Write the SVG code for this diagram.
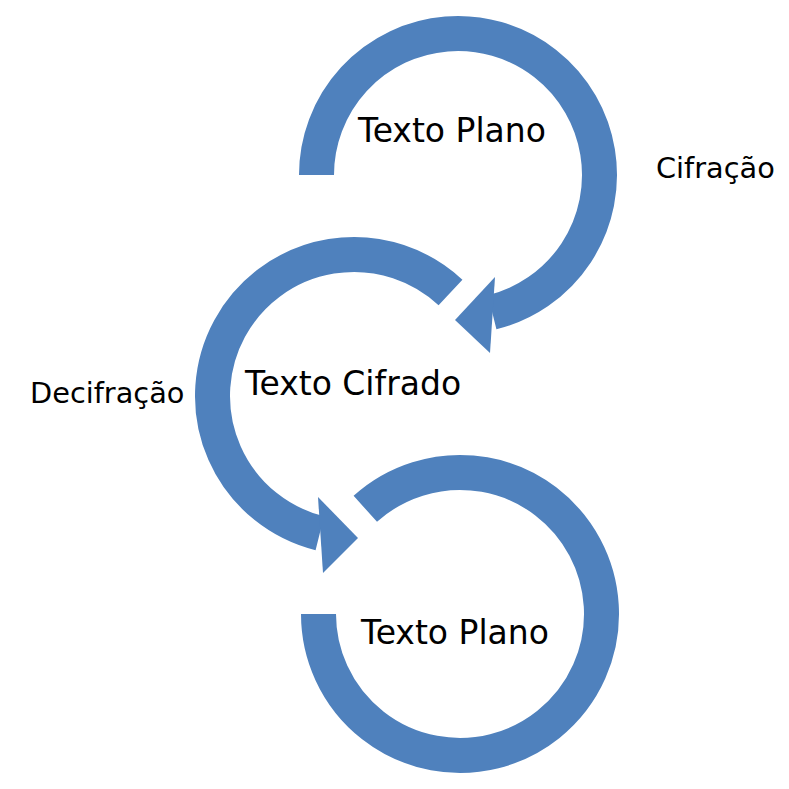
<svg xmlns="http://www.w3.org/2000/svg" width="789" height="789" viewBox="0 0 789 789">
<style>
.arc{fill:none;stroke:#4f81bd;stroke-width:35;stroke-linecap:butt}
.head{fill:#4f81bd}
.big{font-family:"DejaVu Sans",Verdana,sans-serif;font-size:33px;fill:#000;text-anchor:middle}
.lbl{font-family:"DejaVu Sans",Verdana,sans-serif;font-size:28.8px;fill:#000}
</style>
<rect width="789" height="789" fill="#fff"/>
<g id="connectors">
<g id="encrypt-arrow">
<path class="arc" d="M316.5,175 A141.5,141.5 0 1 1 492.2,312.3"/>
<polygon class="head" points="495,277 455,320 490,353"/>
</g>
<g id="decrypt-arrow">
<path class="arc" d="M450.5,292.5 A141.5,141.5 0 1 0 319.8,533.3"/>
<polygon class="head" points="318,497 358,538 323,573"/>
</g>
<g id="plain-cycle">
<path class="arc" d="M365.3,508.8 A141.5,141.5 0 1 1 318.5,614"/>
</g>
</g>
<g id="node-plain-top"><text class="big" x="452" y="142">Texto Plano</text></g>
<g id="node-cipher"><text class="big" x="353" y="395">Texto Cifrado</text></g>
<g id="node-plain-bottom"><text class="big" x="455" y="644">Texto Plano</text></g>
<g id="label-cifracao"><text class="lbl" x="656" y="178">Cifração</text></g>
<g id="label-decifracao"><text class="lbl" x="30" y="403">Decifração</text></g>
</svg>
